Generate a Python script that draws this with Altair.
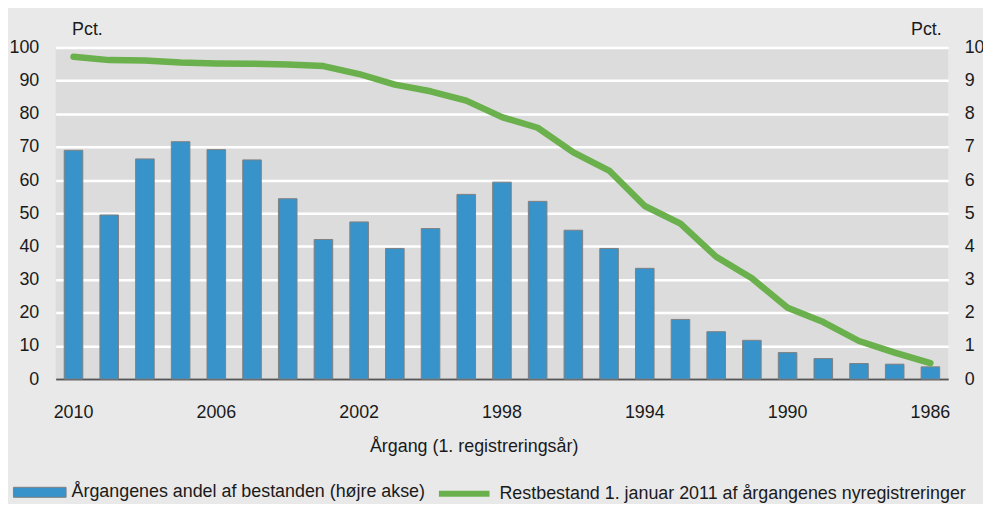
import altair as alt
import pandas as pd

years = list(range(2010, 1985, -1))
andel = [6.90, 4.95, 6.64, 7.16, 6.92, 6.61, 5.44, 4.21, 4.74, 3.94, 4.54, 5.57, 5.94,
         5.36, 4.49, 3.94, 3.34, 1.80, 1.43, 1.17, 0.80, 0.62, 0.47, 0.45, 0.37]
rest = [97.2, 96.2, 96.1, 95.5, 95.2, 95.1, 94.9, 94.4, 92.0, 88.8, 86.8, 84.0, 79.0,
        75.8, 68.4, 62.9, 52.2, 46.9, 36.9, 30.4, 21.5, 17.2, 11.5, 8.0, 4.8]
x_ticks = [2010, 2006, 2002, 1998, 1994, 1990, 1986]
left_ticks = list(range(0, 101, 10))
right_ticks = list(range(0, 11, 1))

bar_label = "Årgangenes andel af bestanden (højre akse)"
line_label = "Restbestand 1. januar 2011 af årgangenes nyregistreringer"

df = pd.DataFrame({"year": years, "andel": andel, "rest": rest,
                   "s1": bar_label, "s2": line_label})

FONT = "Liberation Sans, Arial, sans-serif"
TXT = "#1a1a1a"
FS = 18

x_enc = alt.X(
    "year:O",
    sort="descending",
    scale=alt.Scale(paddingInner=0.48, paddingOuter=0.24),
    axis=alt.Axis(
        values=x_ticks, labelAngle=0, ticks=False, domain=True,
        domainColor="#555555", domainWidth=2, labelPadding=25,
        labelBaseline="top",
        title="Årgang (1. registreringsår)", titleX=421, titleY=68,
        titleAlign="center", titleBaseline="middle",
    ),
)

bars = alt.Chart(df).mark_bar(stroke="#808080", strokeWidth=1).encode(
    x=x_enc,
    y=alt.Y(
        "andel:Q",
        scale=alt.Scale(domain=[0, 10], nice=False),
        axis=alt.Axis(
            orient="right", values=right_ticks, grid=False, ticks=False,
            domain=False, labelPadding=16, labelAlign="left",
            title="Pct.", titleAngle=0, titleX=-38, titleY=-13,
            titleAlign="left", titleBaseline="alphabetic",
        ),
    ),
    fill=alt.Fill(
        "s1:N",
        scale=alt.Scale(range=["#3793c9"]),
        legend=alt.Legend(
            title=None, orient="none", legendX=-43, legendY=421,
            symbolType="M-1,-0.19L1,-0.19L1,0.19L-1,0.19Z", symbolSize=2809,
            symbolStrokeColor="#808080", symbolStrokeWidth=1,
            labelOffset=5, padding=0,
        ),
    ),
)

line = alt.Chart(df).mark_line(strokeWidth=6.5, strokeCap="round", strokeJoin="round").encode(
    x=x_enc,
    y=alt.Y(
        "rest:Q",
        scale=alt.Scale(domain=[0, 100], nice=False),
        axis=alt.Axis(
            orient="left", values=left_ticks, grid=True, gridColor="white",
            gridWidth=2.5, ticks=False, domain=False, labelPadding=17,
            title="Pct.", titleAngle=0, titleX=16, titleY=-13,
            titleAlign="left", titleBaseline="alphabetic",
        ),
    ),
    stroke=alt.Stroke(
        "s2:N",
        scale=alt.Scale(range=["#6ab04c"]),
        legend=alt.Legend(
            title=None, orient="none", legendX=383, legendY=421,
            symbolType="stroke", symbolSize=2601, symbolStrokeWidth=6,
            labelOffset=7, padding=0,
        ),
    ),
)

chart = (
    alt.layer(bars, line)
    .resolve_scale(y="independent")
    .properties(
        width=899, height=334,
        autosize=alt.AutoSizeParams(type="none"),
        padding={"left": 48, "top": 38, "right": 35, "bottom": 124},
        background="#e9e9e9",
    )
    .configure_view(fill="#dcdcdc", strokeWidth=0)
    .configure_axis(
        labelFont=FONT, titleFont=FONT, labelFontSize=FS, titleFontSize=FS,
        labelColor=TXT, titleColor=TXT, titleFontWeight="normal",
    )
    .configure_legend(labelFont=FONT, labelFontSize=FS, labelColor=TXT, labelLimit=0)
)

chart.save("out.html", embed_options={"renderer": "svg", "actions": False})
